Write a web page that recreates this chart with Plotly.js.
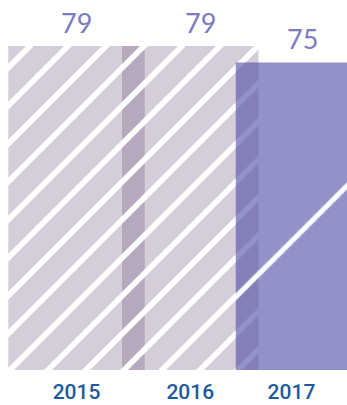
<!DOCTYPE html>
<html>
<head>
<meta charset="utf-8">
<script src="https://cdn.plot.ly/plotly-3.0.1.min.js"></script>
<style>html,body{margin:0;padding:0;background:#fff;}#chart{width:347px;height:405px;}</style>
</head>
<body>
<div id="chart"></div>
<script>
var years = ['2015', '2016', '2017'];
var values = [79, 79, 75];
var barColors = ['#5e3f6d', '#5e3f6d', '#4f4fa6'];
var barOpacity = [0.26, 0.26, 0.62];

var xIdx = years.map(function (y, i) { return i; });

var trace = {
  type: 'bar',
  x: xIdx,
  y: values,
  width: 1.2,
  hoverinfo: 'none',
  marker: {
    color: barColors,
    opacity: barOpacity,
    line: {width: 0},
    pattern: {
      shape: '/',
      fillmode: 'overlay',
      fgcolor: 'white',
      fgopacity: 1,
      size: [26.87, 26.87, 188.4],
      solidity: [0.21, 0.21, 0.027]
    }
  }
};

var labelShift = [0, 10, -2];
var annotations = years.map(function (y, i) {
  return {
    x: xIdx[i], y: values[i], text: String(values[i]),
    xref: 'x', yref: 'y', showarrow: false,
    xanchor: 'center', yanchor: 'bottom',
    xshift: labelShift[i], yshift: 5,
    font: {family: 'Lato, sans-serif', size: 27, color: '#7b7bc0'}
  };
});

var layout = {
  width: 347, height: 405,
  margin: {l: 0, r: 0, t: 0, b: 35, pad: 0},
  paper_bgcolor: '#ffffff', plot_bgcolor: '#ffffff',
  showlegend: false,
  xaxis: {
    range: [-0.6725, 2.378],
    tickmode: 'array',
    tickvals: [0, 1, 1.89],
    ticktext: years,
    showgrid: false, zeroline: false, showline: false, ticks: '',
    ticklabelstandoff: 7,
    tickfont: {family: 'Roboto, sans-serif', size: 21, color: '#1d5a9b', weight: 500},
    fixedrange: true
  },
  yaxis: {
    range: [0, 90.24],
    visible: false,
    showgrid: false, zeroline: false,
    fixedrange: true
  },
  annotations: annotations
};

Plotly.newPlot('chart', [trace], layout, {displayModeBar: false, staticPlot: true});
</script>
</body>
</html>
